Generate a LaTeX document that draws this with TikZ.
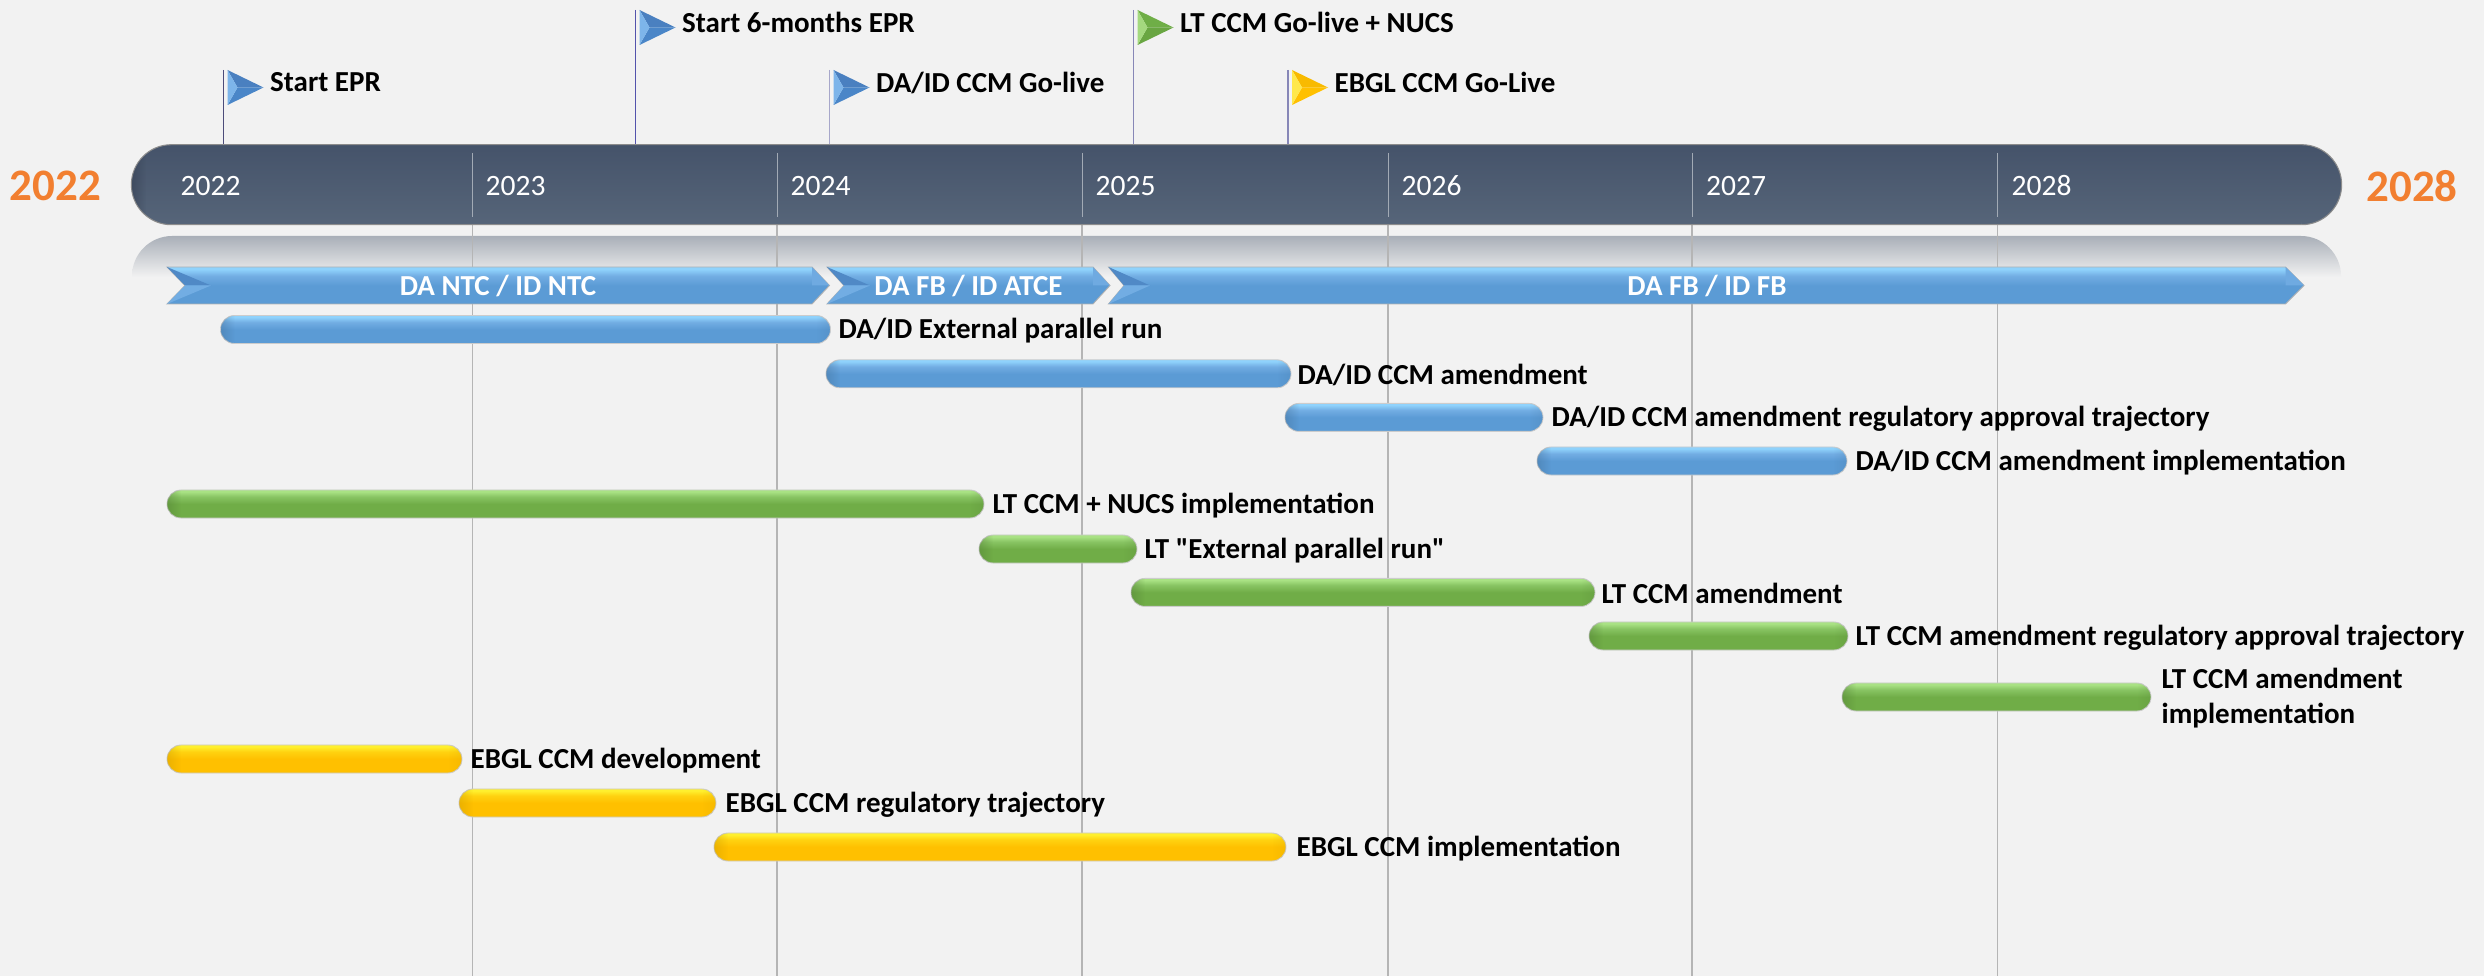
\documentclass[tikz,border=0pt]{standalone}
\usepackage{fontspec}
\setmainfont{Carlito}
\newfontfamily\plainq{Carlito}
\usetikzlibrary{shapes.misc,fadings}
\definecolor{pagebg}{HTML}{F2F2F2}
\definecolor{bluebase}{HTML}{5B9BD5}
\definecolor{bluelite}{HTML}{8FD2FC}
\definecolor{bluemid}{HTML}{72ADE3}
\definecolor{greenbase}{HTML}{70AD47}
\definecolor{greenlite}{HTML}{A9E284}
\definecolor{greenmid}{HTML}{88C463}
\definecolor{goldbase}{HTML}{FFC000}
\definecolor{goldlite}{HTML}{FFF02E}
\definecolor{goldmid}{HTML}{FFD210}
\definecolor{barone}{HTML}{45536A}
\definecolor{bartwo}{HTML}{566579}
\definecolor{orangeyr}{HTML}{F27F30}
\definecolor{gridc}{HTML}{B5B5B5}
\definecolor{mirrortop}{HTML}{A9AFB8}
\pgfdeclareverticalshading{blueshade}{100bp}{color(0bp)=(bluebase);color(25bp)=(bluebase);color(50bp)=(bluebase);color(63bp)=(bluemid);color(72bp)=(bluelite);color(75bp)=(bluelite);color(100bp)=(bluelite)}
\pgfdeclareverticalshading{greenshade}{100bp}{color(0bp)=(greenbase);color(25bp)=(greenbase);color(50bp)=(greenbase);color(63bp)=(greenmid);color(72bp)=(greenlite);color(75bp)=(greenlite);color(100bp)=(greenlite)}
\pgfdeclareverticalshading{goldshade}{100bp}{color(0bp)=(goldbase);color(25bp)=(goldbase);color(50bp)=(goldbase);color(63bp)=(goldmid);color(72bp)=(goldlite);color(75bp)=(goldlite);color(100bp)=(goldlite)}
\pgfdeclareverticalshading{mainshade}{100bp}{color(0bp)=(bartwo);color(25bp)=(bartwo);color(75bp)=(barone);color(100bp)=(barone)}
\pgfdeclareverticalshading{mirrorshade}{100bp}{color(0bp)=(pagebg);color(25bp)=(pagebg);color(75bp)=(mirrortop);color(100bp)=(mirrortop)}
\tikzset{
  x=0.01cm,y=-0.01cm,
  pill/.style={rounded rectangle,draw=black!20,line width=0.25pt,minimum height=0.28cm,inner sep=0pt,outer sep=0pt},
  pillblue/.style={pill,shading=blueshade},
  pillgreen/.style={pill,shading=greenshade},
  pillgold/.style={pill,shading=goldshade},
  barlabel/.style={anchor=west,inner sep=0pt,font=\fontsize{8.25}{10}\selectfont\bfseries,text=black,align=left},
  yearlabel/.style={anchor=west,inner sep=0pt,font=\fontsize{8.4}{10}\selectfont,text=white},
  bigyear/.style={anchor=center,inner sep=0pt,font=\fontsize{12.8}{15}\selectfont\bfseries,text=orangeyr},
  phaselabel/.style={anchor=center,inner sep=0pt,font=\fontsize{8.25}{10}\selectfont\bfseries,text=white},
  gridline/.style={draw=gridc,line width=0.35pt},
  innergrid/.style={draw=white!45!bartwo,line width=0.25pt},
}
\newcommand{\pillbar}[7]{% name, x1, x2, y, style, label-x, end colour
  \node[#5,minimum width={(#3-#2)*0.01cm}] (#1) at ({(#2+#3)/2},#4) {};
  \begin{scope}
    \clip[rounded corners=0.138cm] (#2,#4-14) rectangle (#3,#4+14);
    \fill[#7,opacity=.38,path fading=east] (#2,#4-14) rectangle (#2+14,#4+14);
    \fill[#7,opacity=.16,path fading=west] (#3-14,#4-14) rectangle (#3,#4+14);
  \end{scope}
  \node[barlabel] (#1t) at (#6,#4+1.5) {\pillbartext};
}
\newcommand{\flagmark}[8]{% name, polex, ytop, top facet, lower facet, left facet, pole colour, label
  \coordinate (#1a) at (#2+4,#3);
  \coordinate (#1b) at (#2+40,#3+17.5);
  \coordinate (#1c) at (#2+4,#3+35);
  \coordinate (#1d) at (#2+14,#3+17.5);
  \coordinate (#1p) at (#2,#3);
  \coordinate (#1q) at (#2,144);
  \draw[draw=#7,line width=0.3pt] (#1p) -- (#1q);
  \fill[#4] (#1a) -- (#1b) -- (#1d) -- cycle;
  \fill[#5] (#1c) -- (#1b) -- (#1d) -- cycle;
  \fill[#6] (#1a) -- (#1d) -- (#1c) -- cycle;
  \node[barlabel] (#1t) at (#2+46,#3+12.5) {#8};
}
\newcommand{\phasearrow}[7]{% name, x0, notch, shoulder, tip, label-x, text
  \coordinate (#1nw) at (#2,267);
  \coordinate (#1n) at (#3,285.5);
  \coordinate (#1sw) at (#2,304);
  \coordinate (#1se) at (#4,304);
  \coordinate (#1tip) at (#5,285.5);
  \coordinate (#1ne) at (#4,267);
  \shade[shading=blueshade,draw=black!30,line width=0.25pt] (#1nw) -- (#1ne) -- (#1tip) -- (#1se) -- (#1sw) -- (#1n) -- cycle;
  \fill[HTMLfacet] (#1nw) -- (#1n) -- (#3+26,285.5) -- cycle;
  \fill[bluemid] (#1sw) -- (#1n) -- (#3+26,285.5) -- cycle;
  \fill[bluemid!85!bluebase] (#1ne) -- (#1tip) -- (#4,285.5) -- cycle;
  \node[phaselabel] (#1t) at (#6,285.5) {#7};
}
\definecolor{HTMLfacet}{HTML}{5089C6}
\definecolor{bluetop}{HTML}{4A80C0}
\definecolor{bluelow}{HTML}{4A86C8}
\definecolor{blueleft}{HTML}{7DB5EA}
\definecolor{greentop}{HTML}{6FAE47}
\definecolor{greenlow}{HTML}{69A642}
\definecolor{greenleft}{HTML}{A4D97F}
\definecolor{goldtop}{HTML}{F8BA00}
\definecolor{goldlow}{HTML}{FFC000}
\definecolor{goldleft}{HTML}{FFE84A}
\begin{document}
\begin{tikzpicture}
\useasboundingbox (0,0) rectangle (2484,976);
\fill[pagebg] (0,0) rectangle (2484,976);

% mirror of the main bar
\shade[shading=mirrorshade] (132,277) -- (132,276) .. controls (132,254) and (150,236) .. (172,236) -- (2301,236) .. controls (2323,236) and (2341,254) .. (2341,276) -- (2341,277) -- cycle;

% grid lines below the bar
\foreach \gx/\gn in {472.5/a,777/b,1082/c,1388/d,1692/e,1997.5/f}{
  \coordinate (g\gn t) at (\gx,225);
  \coordinate (g\gn b) at (\gx,976);
  \draw[gridline] (g\gn t) -- (g\gn b);
}

% main bar
\node[rounded rectangle,draw=black!45,line width=0.3pt,shading=mainshade,minimum width=22.09cm,minimum height=0.80cm,inner sep=0pt] (mainbar) at (1236.5,184.7) {};
\begin{scope}
  \clip (2301,144.7) -- (2301,224.7) arc[start angle=-90,end angle=90,radius=40] -- cycle;
  \clip (2301,144) rectangle (2345,226);
  \fill[even odd rule,white!55!bartwo,opacity=.5] (2301,184.7) circle[radius=40] (2295.5,182) circle[radius=41];
\end{scope}
\begin{scope}
  \clip[rounded corners=0.4cm] (132,144.7) rectangle (2341,224.7);
  \fill[barone!80!black,opacity=.6,path fading=east] (132,144.7) rectangle (146,224.7);
\end{scope}
\foreach \gx/\gn in {472.5/a,777/b,1082/c,1388/d,1692/e,1997.5/f}{
  \coordinate (i\gn t) at (\gx,153);
  \coordinate (i\gn b) at (\gx,217);
  \draw[innergrid] (i\gn t) -- (i\gn b);
}
\node[yearlabel] (y22) at (180,186) {2022};
\node[yearlabel] (y23) at (485,186) {2023};
\node[yearlabel] (y24) at (790,186) {2024};
\node[yearlabel] (y25) at (1095,186) {2025};
\node[yearlabel] (y26) at (1401,186) {2026};
\node[yearlabel] (y27) at (1705.5,186) {2027};
\node[yearlabel] (y28) at (2011,186) {2028};
\node[bigyear] (big22) at (55.5,186) {2022};
\node[bigyear] (big28) at (2412,186) {2028};

% milestones
\flagmark{m1}{223.5}{70}{bluetop}{bluelow}{blueleft}{black!55!blue!40!gray}{Start EPR}
\flagmark{m2}{635.5}{10}{bluetop}{bluelow}{blueleft}{blue!35!gray}{Start 6-months EPR}
\flagmark{m3}{829.5}{70}{bluetop}{bluelow}{blueleft}{blue!25!gray!55!white}{DA/ID CCM Go-live}
\flagmark{m4}{1133.5}{10}{greentop}{greenlow}{greenleft}{blue!25!gray!75!white}{LT CCM Go-live + NUCS}
\flagmark{m5}{1288}{70}{goldtop}{goldlow}{goldleft}{blue!25!gray!75!white}{EBGL CCM Go-Live}

% phases
\phasearrow{p1}{167}{185}{812}{829.5}{498}{DA NTC / ID NTC}
\phasearrow{p2}{827}{844}{1093}{1110}{968.5}{DA FB / ID ATCE}
\phasearrow{p3}{1108.5}{1124}{2285.5}{2304}{1707}{DA FB / ID FB}

% bars
\def\pillbartext{DA/ID External parallel run}\pillbar{b1}{220.5}{830.5}{329.5}{pillblue}{838}{bluebase!70!black}
\def\pillbartext{DA/ID CCM amendment}\pillbar{b2}{826}{1291}{373.8}{pillblue}{1297}{bluebase!70!black}
\def\pillbartext{DA/ID CCM amendment regulatory approval trajectory}\pillbar{b3}{1285}{1543}{417.4}{pillblue}{1551}{bluebase!70!black}
\def\pillbartext{DA/ID CCM amendment implementation}\pillbar{b4}{1537}{1847}{461}{pillblue}{1855}{bluebase!70!black}
\def\pillbartext{LT CCM + NUCS implementation}\pillbar{b5}{167}{984}{504}{pillgreen}{992}{greenbase!70!black}
\def\pillbartext{LT {\plainq "}External parallel run{\plainq "}}\pillbar{b6}{979}{1137}{549}{pillgreen}{1144}{greenbase!70!black}
\def\pillbartext{LT CCM amendment}\pillbar{b7}{1131}{1595}{592.4}{pillgreen}{1601}{greenbase!70!black}
\def\pillbartext{LT CCM amendment regulatory approval trajectory}\pillbar{b8}{1589}{1848}{636}{pillgreen}{1855}{greenbase!70!black}
\def\pillbartext{LT CCM amendment\\implementation}\pillbar{b9}{1842}{2151}{697}{pillgreen}{2161}{greenbase!70!black}
\def\pillbartext{EBGL CCM development}\pillbar{b10}{167}{462}{759}{pillgold}{470}{goldbase!80!black}
\def\pillbartext{EBGL CCM regulatory trajectory}\pillbar{b11}{459}{716}{803}{pillgold}{725}{goldbase!80!black}
\def\pillbartext{EBGL CCM implementation}\pillbar{b12}{714}{1286}{847}{pillgold}{1296}{goldbase!80!black}
\end{tikzpicture}
\end{document}
